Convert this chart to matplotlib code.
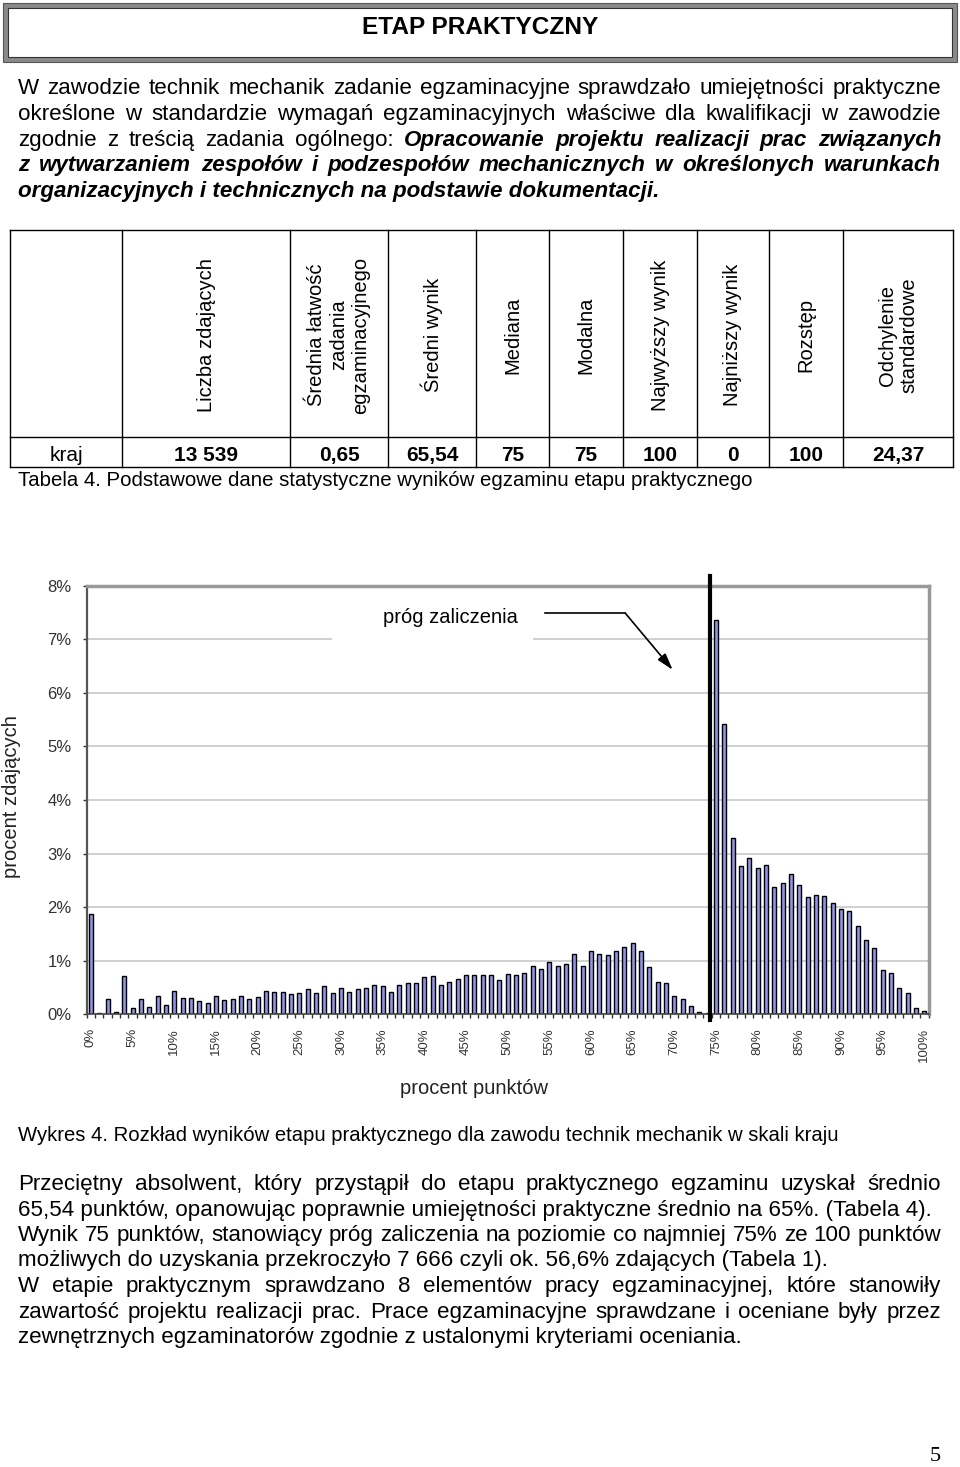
import matplotlib
matplotlib.use("Agg")
import matplotlib.pyplot as plt
from matplotlib.patches import Rectangle

plt.rcParams['font.family'] = ['Liberation Sans', 'DejaVu Sans']

# percent of candidates for each score 0..100
scores = list(range(101))
share = [1.87, 0.02, 0.28, 0.04, 0.72, 0.11, 0.28, 0.14, 0.34, 0.17,
         0.44, 0.30, 0.30, 0.24, 0.22, 0.35, 0.26, 0.28, 0.35, 0.28,
         0.32, 0.44, 0.42, 0.42, 0.37, 0.40, 0.48, 0.40, 0.52, 0.40,
         0.50, 0.42, 0.48, 0.50, 0.55, 0.53, 0.42, 0.55, 0.58, 0.58,
         0.69, 0.71, 0.55, 0.60, 0.65, 0.73, 0.73, 0.73, 0.73, 0.64,
         0.75, 0.73, 0.78, 0.90, 0.85, 0.97, 0.90, 0.93, 1.13, 0.90,
         1.19, 1.13, 1.11, 1.19, 1.26, 1.33, 1.19, 0.88, 0.60, 0.58,
         0.35, 0.28, 0.16, 0.05, 0.02, 7.36, 5.41, 3.30, 2.76, 2.92,
         2.74, 2.78, 2.37, 2.45, 2.61, 2.41, 2.19, 2.23, 2.21, 2.07,
         1.97, 1.92, 1.64, 1.39, 1.24, 0.83, 0.78, 0.50, 0.40, 0.11, 0.06]
pass_mark = 74.3
y_ticks = list(range(9))
x_ticks = list(range(0, 101, 5))

stat_headers = ["Liczba zdających", "Średnia łatwość\nzadania\negzaminacyjnego",
                "Średni wynik", "Mediana", "Modalna", "Najwyższy wynik",
                "Najniższy wynik", "Rozstęp", "Odchylenie\nstandardowe"]
stat_values = ["13 539", "0,65", "65,54", "75", "75", "100", "0", "100", "24,37"]
row_label = "kraj"

# (text, emphasised) pieces per line, and whether the line is justified
intro = [
    ([("W zawodzie technik mechanik zadanie egzaminacyjne sprawdzało umiejętności praktyczne", False)], True),
    ([("określone w standardzie wymagań egzaminacyjnych właściwe dla kwalifikacji w zawodzie", False)], True),
    ([("zgodnie z treścią zadania ogólnego:", False),
      ("Opracowanie projektu realizacji prac związanych", True)], True),
    ([("z wytwarzaniem zespołów i podzespołów mechanicznych w określonych warunkach", True)], True),
    ([("organizacyjnych i technicznych na podstawie dokumentacji.", True)], False),
]
outro = [
    ("Przeciętny absolwent, który przystąpił do etapu praktycznego egzaminu uzyskał średnio", True),
    ("65,54 punktów, opanowując poprawnie umiejętności praktyczne średnio na 65%. (Tabela 4).", False),
    ("Wynik 75 punktów, stanowiący próg zaliczenia na poziomie co najmniej 75% ze 100 punktów", True),
    ("możliwych do uzyskania przekroczyło 7 666 czyli ok. 56,6% zdających (Tabela 1).", False),
    ("W etapie praktycznym sprawdzano 8 elementów pracy egzaminacyjnej, które stanowiły", True),
    ("zawartość projektu realizacji prac. Prace egzaminacyjne sprawdzane i oceniane były przez", True),
    ("zewnętrznych egzaminatorów zgodnie z ustalonymi kryteriami oceniania.", False),
]
table_caption = "Tabela 4. Podstawowe dane statystyczne wyników egzaminu etapu praktycznego"
chart_caption = "Wykres 4. Rozkład wyników etapu praktycznego dla zawodu technik mechanik w skali kraju"

W, H = 960, 1467
fig = plt.figure(figsize=(W / 100, H / 100), dpi=100)
page = fig.add_axes([0, 0, 1, 1])
page.set_xlim(0, W)
page.set_ylim(H, 0)
page.axis("off")
renderer = fig.canvas.get_renderer()

FS = 16.1


def put_line(y, parts, justify, size=FS, x0=18, x1=941):
    y = round(y)  # whole pixels, otherwise word baselines wobble
    words = []
    for txt, emph in parts:
        words += [(w, emph) for w in txt.split()]
    if not justify and len(parts) == 1:
        txt, e = parts[0]
        page.text(x0, y, txt, fontsize=size, va="baseline", ha="left",
                  fontweight="bold" if e else "normal",
                  fontstyle="italic" if e else "normal")
        return
    objs = [page.text(x0, y, w, fontsize=size, va="baseline", ha="left",
                      fontweight="bold" if e else "normal",
                      fontstyle="italic" if e else "normal") for w, e in words]
    widths = [o.get_window_extent(renderer).width for o in objs]
    gap = (x1 - x0 - sum(widths)) / (len(objs) - 1)
    x = x0
    for o, w in zip(objs, widths):
        o.set_x(x)
        x += w + gap


# header box
page.add_patch(Rectangle((5.5, 5.5), 949, 54, fill=False, ec="#8a8a8a", lw=3.6))
page.add_patch(Rectangle((3, 3), 954, 59, fill=False, ec="#555", lw=0.8))
page.add_patch(Rectangle((8, 8), 944, 49, fill=False, ec="#333", lw=0.8))
page.text(480, 34, "ETAP PRAKTYCZNY", fontsize=17.6, fontweight="bold",
          ha="center", va="baseline")

for i, (parts, just) in enumerate(intro):
    put_line(94 + i * 25.8, parts, just)

# statistics table
col_x = [10, 122, 290, 388, 476, 549, 623, 697, 769, 843, 953]
for yy in (230, 437, 467):
    page.plot([10, 953], [yy, yy], color="k", lw=1)
for xx in col_x:
    page.plot([xx, xx], [230, 467], color="k", lw=1)
page.text(66, 461, row_label, fontsize=15, ha="center", va="baseline")
for i, (hd, val) in enumerate(zip(stat_headers, stat_values)):
    cx = (col_x[i + 1] + col_x[i + 2]) / 2
    page.text(cx, 335, hd, fontsize=14.5, rotation=90, ha="center", va="center",
              multialignment="center", linespacing=1.2)
    page.text(cx, 461, val, fontsize=15, fontweight="bold", ha="center", va="baseline")
page.text(18, 486, table_caption, fontsize=14.7, va="baseline")

# histogram
left, right, bottom, top = 86.8, 928.5, 1014.3, 585.7
ax = fig.add_axes([left / W, 1 - bottom / H, (right - left) / W, (bottom - top) / H])
ax.bar(scores, share, width=0.5, color="#9494e6", edgecolor="k", lw=1, zorder=2)
ax.set_xlim(-0.5, 100.5)
ax.set_ylim(0, 8)
ax.set_axisbelow(True)
ax.yaxis.grid(True, color="#c8c8c8", lw=1.2)
ax.set_yticks(y_ticks)
ax.set_yticklabels([f"{v}%" for v in y_ticks])
ax.set_xticks(x_ticks)
ax.set_xticklabels([f"{v}%" for v in x_ticks], rotation=90)
ax.set_xticks([i - 0.5 for i in range(102)], minor=True)
ax.tick_params(axis="y", length=3, width=1, colors="#333", labelsize=12, pad=8)
ax.tick_params(axis="x", which="major", length=0, labelsize=9.5, pad=10,
               labelcolor="#333")
ax.tick_params(axis="x", which="minor", length=3, width=1, color="#333")
for s in ("top", "right"):
    ax.spines[s].set_color("#999")
    ax.spines[s].set_linewidth(2.5)
ax.spines["left"].set_color("#555")
ax.spines["left"].set_linewidth(1.6)
ax.spines["bottom"].set_color("#444")
ax.spines["bottom"].set_linewidth(1.2)

ax.set_ylabel("procent zdających", fontsize=14.5, color="#222")
ax.yaxis.label.set_va("center")
ax.yaxis.set_label_coords(-0.089, 0.507)
ax.set_xlabel("procent punktów", fontsize=14.5, color="#222")
ax.xaxis.label.set_va("center")
ax.xaxis.set_label_coords(0.46, -0.172)

ax.plot([pass_mark, pass_mark], [-0.1, 8.18], color="k", lw=3, clip_on=False, zorder=4)
ax.add_patch(Rectangle((28.9, 6.85), 24.1, 1.05, fc="white", ec="none", zorder=1.5))
ax.text(43.1, 7.40, "próg zaliczenia", fontsize=14.5, ha="center", va="center", zorder=3)
ax.plot([54.5, 64.1], [7.49, 7.49], color="k", lw=1.2, zorder=3)
ax.annotate("", xy=(69.8, 6.43), xytext=(64.1, 7.49),
            arrowprops=dict(arrowstyle="-|>,head_length=1.0,head_width=0.3",
                            color="k", lw=1.2, shrinkA=0, shrinkB=0), zorder=3)

page.text(18, 1141, chart_caption, fontsize=14.6, va="baseline")

for i, (txt, just) in enumerate(outro):
    put_line(1190 + i * 25.5, [(txt, False)], just)

page.text(935, 1461, "5", fontsize=16, ha="center", va="baseline",
          family=["Liberation Serif", "DejaVu Serif"])

fig.savefig("out.png", dpi=100)
